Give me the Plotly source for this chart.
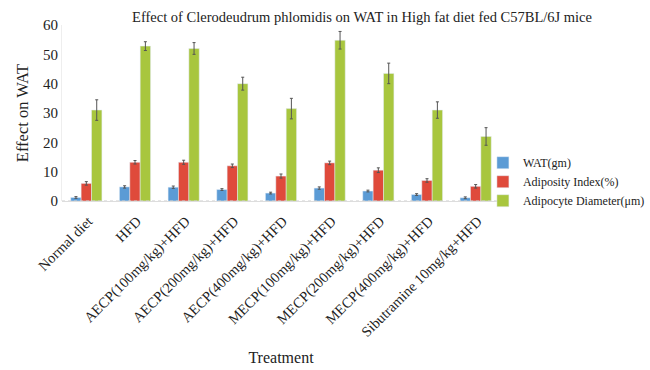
import plotly.graph_objects as go

categories = ["Normal diet", "HFD", "AECP(100mg/kg)+HFD", "AECP(200mg/kg)+HFD",
              "AECP(400mg/kg)+HFD", "MECP(100mg/kg)+HFD", "MECP(200mg/kg)+HFD",
              "MECP(400mg/kg)+HFD", "Sibutramine 10mg/kg+HFD"]
wat = [1.2, 4.8, 4.7, 3.9, 2.7, 4.4, 3.4, 2.2, 1.1]
wat_err = [0.3, 0.4, 0.4, 0.3, 0.3, 0.4, 0.3, 0.3, 0.3]
adiposity = [6.0, 13.2, 13.2, 12.0, 8.5, 13.0, 10.5, 7.0, 5.0]
adiposity_err = [0.6, 0.6, 0.7, 0.6, 0.7, 0.6, 0.8, 0.6, 0.6]
diameter = [31.0, 52.8, 52.0, 40.0, 31.5, 54.8, 43.5, 31.0, 22.0]
diameter_err = [3.5, 1.5, 2.0, 2.2, 3.5, 3.0, 3.5, 2.8, 3.0]
yticks = [0, 10, 20, 30, 40, 50, 60]

serif = "'Times New Roman', 'Liberation Serif', serif"
err_style = dict(type="data", thickness=1, width=1.5, color="#555555")

fig = go.Figure()
fig.add_trace(go.Bar(x=categories, y=wat, name="WAT(gm)", marker_color="#5b9bd5",
                     error_y=dict(array=wat_err, **err_style)))
fig.add_trace(go.Bar(x=categories, y=adiposity, name="Adiposity Index(%)", marker_color="#df4a3b",
                     error_y=dict(array=adiposity_err, **err_style)))
fig.add_trace(go.Bar(x=categories, y=diameter, name="Adipocyte Diameter(μm)", marker_color="#a8c63e",
                     error_y=dict(array=diameter_err, **err_style)))

fig.update_layout(
    width=650, height=370,
    margin=dict(l=62, r=150, t=25, b=169, autoexpand=False),
    paper_bgcolor="white", plot_bgcolor="white",
    barmode="group", bargap=0.36, bargroupgap=0.0,
    font=dict(family=serif, color="#222222"),
    title=dict(text="Effect of Clerodeudrum phlomidis on WAT in High fat diet fed C57BL/6J mice",
               x=0.557, xanchor="center", y=0.955, yanchor="middle",
               font=dict(size=14.5, family=serif, color="#222222")),
    legend=dict(x=0.961, y=0.3, xanchor="left", yanchor="top",
                font=dict(size=12, family=serif, color="#222222"),
                itemwidth=30, tracegroupgap=0, bgcolor="rgba(0,0,0,0)"),
    xaxis=dict(tickangle=-45, tickfont=dict(size=14.5, family=serif),
               showline=False, showgrid=False, ticks="", automargin=False,
               ticklabelshift=2, ticklabelstandoff=8,
               title=dict(text="Treatment", font=dict(size=16, family=serif), standoff=12)),
    yaxis=dict(range=[0, 60], tickvals=yticks, tickfont=dict(size=15, family=serif),
               showgrid=False, showline=True, linecolor="#eeeeee", linewidth=1,
               zeroline=True, zerolinecolor="#dddddd", zerolinewidth=1, ticks="",
               automargin=False,
               title=dict(text="Effect on WAT", font=dict(size=16.5, family=serif), standoff=10)),
)
fig.add_shape(type="line", xref="paper", yref="y", x0=0, x1=1, y0=0, y1=0,
              line=dict(color="#cccccc", width=1, dash="dot"))
fig.write_html("out.html")
